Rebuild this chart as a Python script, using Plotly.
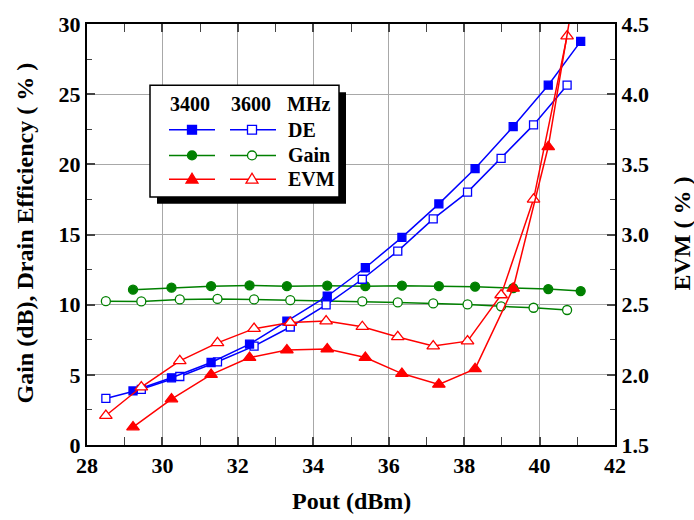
import plotly.graph_objects as go

# ---------------- data ----------------
pout_3400 = [29.22, 30.24, 31.29, 32.31, 33.30, 34.37, 35.38, 36.35, 37.33, 38.29, 39.30, 40.23, 41.09]
pout_3600 = [28.50, 29.44, 30.46, 31.46, 32.43, 33.39, 34.34, 35.30, 36.24, 37.18, 38.09, 38.98, 39.84, 40.73]

de_3400 = [3.85, 4.79, 5.88, 7.19, 8.83, 10.6, 12.63, 14.8, 17.18, 19.7, 22.69, 25.64, 28.76]
de_3600 = [3.32, 3.97, 4.88, 5.93, 7.05, 8.41, 9.99, 11.81, 13.82, 16.11, 18.02, 20.43, 22.81, 25.64]

gain_3400 = [11.07, 11.21, 11.32, 11.37, 11.32, 11.35, 11.32, 11.35, 11.32, 11.28, 11.18, 11.11, 10.97]
gain_3600 = [10.25, 10.23, 10.37, 10.41, 10.37, 10.32, 10.30, 10.23, 10.16, 10.09, 10.02, 9.88, 9.78, 9.62]

evm_3400 = [1.628, 1.827, 2.002, 2.123, 2.177, 2.184, 2.123, 2.009, 1.932, 2.042, 2.616, 3.625, 5.0]
evm_3600 = [1.710, 1.913, 2.100, 2.228, 2.329, 2.373, 2.383, 2.343, 2.270, 2.205, 2.240, 2.569, 3.251, 4.414]

x_ticks = [28, 30, 32, 34, 36, 38, 40, 42]
y_left_ticks = [0, 5, 10, 15, 20, 25, 30]
y_right_ticks = [1.5, 2.0, 2.5, 3.0, 3.5, 4.0, 4.5]

legend_header = ["3400", "3600", "MHz"]
legend_rows = ["DE", "Gain", "EVM"]

# ---------------- style ----------------
BLUE = "#0000FF"
GREEN = "#008000"
RED = "#FF0000"
FONT = "Liberation Serif"
W, H = 694, 520
L, R, T, B = 87, 615, 19, 445  # plot area in pixels


def px(x):
    return (x - L) / (R - L)


def py(y):
    return (B - y) / (B - T)


def bold(s):
    return "<b>" + s + "</b>"


fig = go.Figure()


def add(x, y, color, symbol, filled, yaxis="y", size=9):
    fig.add_trace(go.Scatter(
        x=x, y=y, mode="lines+markers", yaxis=yaxis,
        line=dict(color=color, width=1.5),
        marker=dict(symbol=symbol, size=size,
                    color=color if filled else "white",
                    line=dict(color=color, width=1.3)),
        showlegend=False, cliponaxis=True))


add(pout_3600, gain_3600, GREEN, "circle", False)
add(pout_3400, gain_3400, GREEN, "circle", True)
add(pout_3600, de_3600, BLUE, "square", False, size=8)
add(pout_3400, de_3400, BLUE, "square", True, size=8)
add(pout_3600, evm_3600, RED, "triangle-up", False, yaxis="y2", size=11)
add(pout_3400, evm_3400, RED, "triangle-up", True, yaxis="y2", size=11)

tickfont = dict(family=FONT, size=22, color="black")

fig.update_layout(
    width=W, height=H,
    margin=dict(l=L, r=W - R, t=T, b=H - B),
    paper_bgcolor="white", plot_bgcolor="white",
    xaxis=dict(range=[28, 42], tickvals=x_ticks, ticktext=[bold(str(v)) for v in x_ticks],
               ticks="inside", ticklen=8, tickwidth=1.5,
               minor=dict(dtick=1, ticks="inside", ticklen=5, tickwidth=1.2, showgrid=False),
               showline=True, linecolor="black", linewidth=2, mirror="allticks",
               showgrid=True, gridcolor="#a8a8a8", gridwidth=1, zeroline=False,
               tickfont=tickfont),
    yaxis=dict(range=[0, 30], tickvals=y_left_ticks, ticktext=[bold(str(v)) for v in y_left_ticks],
               ticks="inside", ticklen=8, tickwidth=1.5,
               minor=dict(dtick=2.5, ticks="inside", ticklen=5, tickwidth=1.2, showgrid=False),
               showline=True, linecolor="black", linewidth=2,
               showgrid=True, gridcolor="#a8a8a8", gridwidth=1, zeroline=False,
               tickfont=tickfont),
    yaxis2=dict(range=[1.5, 4.5], tickvals=y_right_ticks,
                ticktext=[bold("%.1f" % v) for v in y_right_ticks],
                overlaying="y", side="right", ticks="inside", ticklen=8, tickwidth=1.5,
                minor=dict(dtick=0.25, ticks="inside", ticklen=5, tickwidth=1.2, showgrid=False),
                showline=True, linecolor="black", linewidth=2,
                showgrid=False, zeroline=False, tickfont=tickfont),
)

titlefont = dict(family=FONT, size=24, color="black")
annotations = [
    dict(text=bold("Pout (dBm)"), x=px(351), y=py(502), xref="paper", yref="paper",
         showarrow=False, font=titlefont, xanchor="center", yanchor="middle"),
    dict(text=bold("Gain (dB), Drain Efficiency ( % )"), x=px(25), y=py(231), xref="paper", yref="paper",
         showarrow=False, font=titlefont, textangle=-90, xanchor="center", yanchor="middle"),
    dict(text=bold("EVM ( % )"), x=px(682), y=py(231), xref="paper", yref="paper",
         showarrow=False, font=titlefont, textangle=-90, xanchor="center", yanchor="middle"),
]

# ---------------- custom legend box ----------------
shapes = []
bx0, by0, bx1, by1 = 150, 81, 339, 194
shapes.append(dict(type="rect", xref="paper", yref="paper", layer="above",
                   x0=px(bx0 + 7), x1=px(bx1 + 7), y0=py(by1 + 7), y1=py(by0 + 7),
                   fillcolor="black", line=dict(width=0)))
shapes.append(dict(type="rect", xref="paper", yref="paper", layer="above",
                   x0=px(bx0), x1=px(bx1), y0=py(by1), y1=py(by0),
                   fillcolor="white", line=dict(color="black", width=1.5)))

legfont = dict(family=FONT, size=20, color="black")
for txt, cx in zip(legend_header, [190, 251, 308]):
    annotations.append(dict(text=bold(txt), x=px(cx), y=py(100), xref="paper", yref="paper",
                            showarrow=False, font=legfont, xanchor="center", yanchor="middle"))

row_y = [126, 152, 176]
row_colors = [BLUE, GREEN, RED]
row_kind = ["square", "circle", "triangle"]
cols = [(169, 215, 192, True), (230, 276, 252, False)]
for name, ry, col, kind in zip(legend_rows, row_y, row_colors, row_kind):
    annotations.append(dict(text=bold(name), x=px(286), y=py(ry), xref="paper", yref="paper",
                            showarrow=False, font=legfont, xanchor="left", yanchor="middle"))
    for lx0, lx1, mx, filled in cols:
        shapes.append(dict(type="line", xref="paper", yref="paper", layer="above",
                           x0=px(lx0), x1=px(lx1), y0=py(ry), y1=py(ry),
                           line=dict(color=col, width=1.5)))
        fill = col if filled else "white"
        if kind == "square":
            shapes.append(dict(type="rect", xref="paper", yref="paper", layer="above",
                               x0=px(mx - 4.5), x1=px(mx + 4.5), y0=py(ry + 4.5), y1=py(ry - 4.5),
                               fillcolor=fill, line=dict(color=col, width=1.3)))
        elif kind == "circle":
            shapes.append(dict(type="circle", xref="paper", yref="paper", layer="above",
                               x0=px(mx - 4.5), x1=px(mx + 4.5), y0=py(ry + 4.5), y1=py(ry - 4.5),
                               fillcolor=fill, line=dict(color=col, width=1.3)))
        else:
            path = "M {} {} L {} {} L {} {} Z".format(
                px(mx - 6), py(ry + 4), px(mx + 6), py(ry + 4), px(mx), py(ry - 6))
            shapes.append(dict(type="path", xref="paper", yref="paper", layer="above",
                               path=path, fillcolor=fill, line=dict(color=col, width=1.3)))

fig.update_layout(shapes=shapes, annotations=annotations)
fig.write_html("out.html")
